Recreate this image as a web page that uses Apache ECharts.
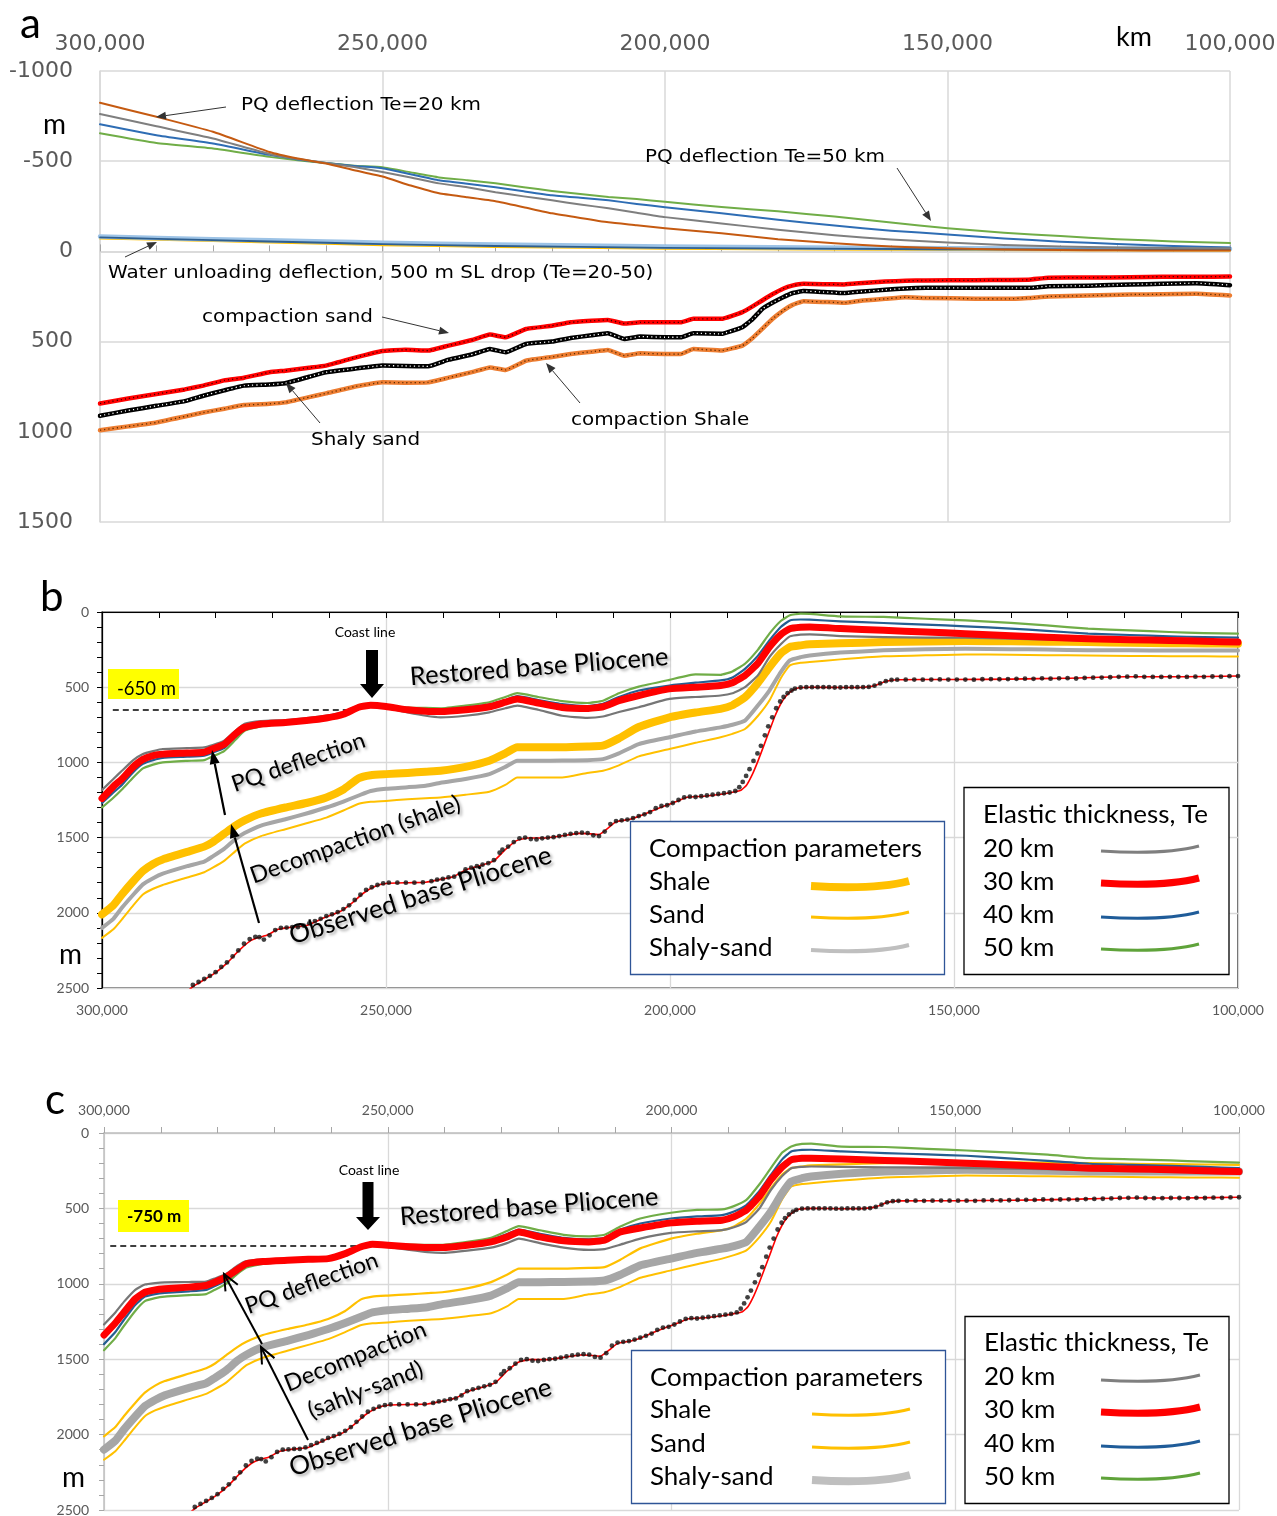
<!DOCTYPE html>
<html>
<head>
<meta charset="utf-8">
<script src="https://cdn.jsdelivr.net/npm/echarts@6/dist/echarts.min.js"></script>
<style>
  html, body { margin: 0; padding: 0; background: #fff; }
  #chart { width: 1277px; height: 1516px; }
</style>
</head>
<body>
<div id="chart"></div>
<script>
// Distances along the profile are stored in thousands (300 -> 300,000).

// ---------- Panel a: deflections and compaction corrections ----------
const aDist = [300,290,280,270,265,260,255,250,245,240,235,230,225,220,215,210,205,200,190,180,170,160,150,140,130,120,110,100];
const aPQ20 = [-824,-746,-663,-551,-515,-487,-450,-415,-365,-322,-300,-278,-245,-211,-185,-161,-145,-128,-100,-68,-45,-27,-17,-11,-8,-6,-5,-5];
const aPQ30 = [-762,-694,-626,-540,-512,-490,-468,-440,-410,-377,-355,-328,-305,-283,-260,-239,-214,-190,-155,-120,-90,-66,-50,-35,-27,-22,-19,-17];
const aPQ40 = [-705,-644,-598,-535,-510,-490,-474,-461,-428,-394,-375,-356,-333,-311,-297,-283,-263,-245,-211,-175,-143,-115,-94,-72,-54,-41,-30,-22];
const aPQ50 = [-655,-601,-570,-524,-505,-490,-475,-467,-438,-410,-395,-378,-356,-335,-318,-302,-290,-275,-246,-222,-193,-160,-128,-104,-85,-68,-55,-46];

const wDist   = [300,280,260,250,230,200,150,100];
const wLight  = [-82,-68,-55,-48,-38,-27,-18,-14];
const wDark   = [-78,-62,-48,-40,-30,-20,-12,-10];
const wYellow = [-72,-57,-42,-34,-25,-15,-8,-5];

const cDistA = [300,295,290,285,281.7,278,274.5,270,267.2,263, 260,255,250,246,241.9,238.3,234,231,228.2,224.6,
                220,216.7,213,210.1,207.2,204.4,200,197.2,195,190, 186.3,184.5,182.8,181,179.1,177.5,175.5,172,168.3,165,
                161,157.4,153.8,145,139.4,135.7,132.1,125,117.6,112, 106,100];
const aSand  = [843,815,791,765,744,715,700,670,661,645, 633,590,552,545,550,522,490,461,476,430,
                412,393,385,380,400,393,393,393,374,374, 337,305,272,238,207,190,180,182,183,175,
                167,163,161,160,158,157,146,145,143,140, 141,139];
const aShalySand = [911,882,856,830,800,770,744,738,731,695, 670,650,633,635,637,600,570,541,559,513,
                500,480,465,454,485,472,476,476,454,457, 420,375,319,285,254,232,220,225,231,222,
                213,205,202,202,202,202,193,190,183,180, 176,187];
const aShale = [991,970,948,915,893,872,852,845,837,808, 787,750,726,728,726,700,668,643,657,606,
                585,569,556,546,578,565,569,569,541,550, 522,480,430,375,328,298,276,280,285,272,
                263,254,258,262,263,258,250,245,239,238, 235,244];

// ---------- Panels b and c: restored base Pliocene ----------
const rDist = [300,298,296.5,294.5,292.8,291,289.3,285,282,280.5, 278.5,276.5,274.9,272,267.7,264,260.5,257.5,254.8,252.7,
               250,246.2,243,240.4,236,231.8,229,226.9,223.2,219, 214.6,211.8,209,205.5,200.1,195.5,191.1,189,186.8,184.5,
               182.5,180.5,178.9,177,175.4,170,162.4,155,148,140, 133.7,126.4,119,112.1,106,100];

// b: sea level at coast line -650 m
const bTe20 = [1184,1110,1056,985,944,925,911,905,900,885, 856,790,744,725,718,705,689,665,622,615,
               638,668,690,700,690,667,640,622,650,690, 704,695,665,633,578,565,555,540,500,420,
               300,215,162,150,149,160,167,170,171,178, 183,189,189,189,189,189];
const bTe30 = [1240,1160,1110,1030,980,955,945,938,932,910, 880,810,767,745,735,722,705,680,633,620,
               628,650,660,662,650,630,600,578,605,635, 642,630,590,555,511,500,489,470,422,340,
               233,150,111,102,100,110,122,133,144,158, 168,178,184,189,195,200];
const bTe40 = [1270,1200,1150,1065,1010,985,970,962,955,935, 905,830,780,755,740,725,708,680,633,620,
               625,640,648,650,635,615,585,560,585,612, 625,610,565,522,489,470,455,435,378,290,
               189,100,56,50,51,62,73,84,95,110, 125,144,153,162,167,171];
const bTe50 = [1300,1235,1180,1100,1040,1015,1000,990,985,960, 925,850,790,760,745,728,710,682,635,622,
               625,635,638,640,622,600,565,540,565,592, 605,590,540,496,451,415,418,395,344,250,
               144,60,22,11,12,29,33,45,56,72, 89,111,122,133,140,144];

// c: sea level at coast line -750 m
const cTe20 = [1270,1190,1120,1040,1005,995,990,988,985,965, 935,880,850,840,835,832,825,795,752,740,
               755,775,790,795,780,760,730,700,730,760, 775,770,740,700,662,652,644,625,589,500,
               378,285,233,224,222,225,227,230,233,237, 240,244,244,244,244,244];
const cTe30 = [1340,1260,1190,1100,1056,1040,1033,1022,1011,990, 956,905,867,852,844,838,833,800,756,738,
               744,755,760,760,745,722,690,656,689,715, 722,711,656,630,596,585,578,555,511,420,
               311,225,178,168,167,172,182,190,200,212, 222,233,238,244,250,256];
const cTe40 = [1400,1320,1240,1140,1085,1068,1060,1050,1040,1015, 978,920,880,860,850,842,836,800,756,740,
               742,748,752,752,735,710,670,640,668,695, 705,695,640,600,567,553,544,520,478,385,
               278,175,122,112,111,122,133,142,151,170, 185,204,211,218,225,233];
const cTe50 = [1440,1360,1280,1180,1115,1095,1085,1075,1068,1040, 1000,935,892,868,855,845,838,802,758,742,
               740,740,742,742,722,695,650,618,645,675, 685,675,620,567,529,510,507,485,444,340,
               233,130,89,72,71,90,93,105,116,130, 144,167,175,182,190,196];

// decompacted base Pliocene for the three lithologies
const decShale = [2011,1950,1878,1790,1722,1675,1645,1595,1560,1530, 1475,1420,1385,1340,1300,1270,1233,1180,1105,1085,
                  1078,1070,1062,1056,1030,989,940,900,900,900, 895,889,840,765,700,668,644,620,567,470,
                  367,275,233,222,215,208,200,196,193,195, 197,200,204,207,209,211];
const decShaly = [2100,2040,1967,1880,1811,1770,1740,1690,1660,1625, 1575,1510,1470,1420,1378,1340,1300,1260,1220,1190,
                  1175,1165,1155,1135,1110,1078,1030,989,989,988, 985,978,940,878,833,795,767,750,722,620,
                  522,400,322,300,289,270,255,248,244,247, 250,255,255,256,256,256];
const decSand  = [2167,2110,2044,1950,1878,1840,1815,1765,1730,1700, 1655,1590,1540,1490,1444,1405,1367,1320,1275,1262,
                  1256,1245,1238,1233,1215,1195,1150,1100,1100,1100, 1070,1056,1020,960,911,870,833,810,778,690,
                  589,440,355,338,333,315,295,288,282,285, 287,289,292,294,295,296];

// observed base Pliocene (depth picks)
const obsDist = [285.5,284,283,282,281,280,279,278,277,276, 275,274,273,272.3,271.5,270.5,269.5,268.5,267.5,266.5,
                 265.5,264.5,263.5,262.5,261.5,260.5,259.5,258.5,257.5,256.5, 255.5,254.5,253.5,252.5,251.5,250.5,249.5,248,246.5,245,
                 243.5,242,241,240,239,238,237,236,235,234, 233,232,231,230,229.5,228.5,227.5,226.5,225.5,224.5,
                 223.5,222.5,221.5,220.5,219.5,218.5,217.5,216.5,215.5,214.5, 213.5,212.5,211.5,210.5,209.5,208.5,207.5,206.5,205.5,204.5,
                 203.5,202.5,201.5,200.5,199.5,198.5,197.5,196.5,195.5,194.5, 193.5,192.5,191.5,190.5,189.5,188.5,187.8,187.2,186.6,186,
                 185.3,184.6,184,183.3,182.7,182,181.3,180.6,180,179.3, 178.6,178,177,176,175,174,173,172,171,170,
                 169,168,167,166,165,164,163,162,161,160, 158.5,157,155.5,154,152.5,151,149.5,148,146.5,145,
                 143.5,142,140.5,139,137.5,136,134.5,133,131.5,130, 128.5,127,125.5,124,122.5,121,119.5,118,116.5,115,
                 113.5,112,110.5,109,107.5,106,104.5,103,101.5,100];
const obsDepth = [2540,2480,2460,2440,2420,2395,2360,2330,2290,2250, 2205,2175,2160,2162,2178,2150,2115,2100,2098,2095,
                  2095,2085,2070,2055,2040,2022,2010,1995,1975,1950, 1915,1880,1848,1830,1815,1805,1800,1800,1800,1800,
                  1798,1790,1780,1775,1765,1760,1740,1712,1700,1690, 1680,1670,1650,1600,1580,1560,1530,1505,1500,1510,
                  1512,1505,1500,1497,1490,1482,1475,1470,1467,1470, 1485,1490,1460,1410,1390,1385,1380,1370,1357,1345,
                  1330,1305,1290,1285,1270,1250,1233,1228,1230,1225, 1220,1215,1210,1205,1200,1190,1165,1130,1090,1045,
                  990,940,890,820,760,700,640,595,565,540, 522,510,502,500,500,500,500,500,502,502,
                  500,500,500,500,498,490,475,460,452,450, 450,449,450,449,448,449,449,449,450,447,
                  446,447,446,444,443,444,441,443,441,440, 442,438,437,436,434,431,430,428,431,432,
                  432,431,431,432,430,431,429,430,427,426];
// smoothed trace through the picks
const fitDist  = [286,284,282,280,278,276,274,272.5,271,269, 267,264,261,258,256,254,252,250,246,243,
                  240,238,236,233,231,229,227,225,222,219, 216,214,212.5,211,209.5,207,205,203,201,199,
                  197,194,191,189,187.5,186.5,185.5,184.5,183.5,182.5, 181.5,180.5,179.5,178.5,177.5,175,170,166,164,162,
                  160,150,140,130,120,110,100];
const fitDepth = [2560,2490,2445,2398,2335,2255,2190,2165,2150,2110, 2098,2085,2035,1990,1935,1870,1825,1805,1800,1797,
                  1775,1758,1715,1682,1655,1580,1520,1503,1503,1488, 1472,1475,1480,1440,1395,1378,1352,1320,1290,1262,
                  1232,1225,1212,1198,1185,1150,1080,990,890,790, 690,610,555,522,505,500,502,500,490,460,
                  450,449,446,440,431,431,426];

// coast-line sea level
const seaLevelB = 650;
const seaLevelC = 750;

// ---------------------------------------------------------------------
const pts = (d, v) => d.map((x, i) => [x * 1000, v[i]]);
const commas = v => String(v).replace(/\B(?=(\d{3})+(?!\d))/g, ',');
const FA = '"DejaVu Sans", Verdana, sans-serif';
const FB = 'Lato, "Noto Sans", sans-serif';

function line(ax, d, v, color, width, z, extra) {
  return Object.assign({
    type: 'line', xAxisIndex: ax, yAxisIndex: ax, data: pts(d, v),
    showSymbol: false, symbol: 'none', smooth: 0.15, silent: true, animation: false, z: z,
    lineStyle: { color: color, width: width, cap: 'round', join: 'round' }
  }, extra || {});
}

const series = [];
// panel a
series.push(line(0, wDist, wYellow, '#ffc000', 2, 2));
series.push(line(0, wDist, wLight, '#9dc3e6', 4.5, 3));
series.push(line(0, wDist, wDark, '#2f5f8f', 1.8, 4));
series.push(line(0, aDist, aPQ50, '#70ad47', 2, 5));
series.push(line(0, aDist, aPQ40, '#2e6db4', 2, 5));
series.push(line(0, aDist, aPQ30, '#7f7f7f', 2, 5));
series.push(line(0, aDist, aPQ20, '#c55a11', 2, 5));
[[aShale, '#ed7d31', '#5a2a00'], [aShalySand, '#000000', '#ffffff'], [aSand, '#ff0000', '#400000']].forEach(function (c) {
  series.push(line(0, cDistA, c[0], c[1], 4.5, 6, { smooth: 0.1 }));
  series.push(line(0, cDistA, c[0], c[2], 1.3, 7, { smooth: 0.1, lineStyle: { color: c[2], width: 1.3, type: [1.2, 3] } }));
});

function restoredPanel(ax, te20, te30, te40, te50, shaleW, shalyW, sea, seaFrom, seaTo) {
  series.push(line(ax, rDist, decSand, '#ffc000', 2, 2));
  series.push(line(ax, rDist, decShaly, '#a6a6a6', shalyW, 3));
  series.push(line(ax, rDist, decShale, '#ffc000', shaleW, 4));
  series.push(line(ax, rDist, te20, '#767676', 2.2, 5));
  series.push(line(ax, rDist, te50, '#70ad47', 2.2, 5));
  series.push(line(ax, rDist, te40, '#255e91', 2.2, 5));
  series.push(line(ax, rDist, te30, '#ff0000', 7, 6));
  series.push(line(ax, fitDist, fitDepth, '#ff0000', 1.6, 7, {
    markLine: {
      silent: true, symbol: ['none', 'none'], label: { show: false }, animation: false,
      lineStyle: { color: '#000', width: 1.6, type: [6, 4] },
      data: [[{ coord: [seaFrom * 1000, sea] }, { coord: [seaTo * 1000, sea] }]]
    }
  }));
  series.push({
    type: 'scatter', xAxisIndex: ax, yAxisIndex: ax, data: pts(obsDist, obsDepth),
    symbol: 'circle', symbolSize: 4.8, itemStyle: { color: '#111' }, silent: true, animation: false, z: 8
  });
}
restoredPanel(1, bTe20, bTe30, bTe40, bTe50, 8, 4, seaLevelB, 298.1, 254.7);
restoredPanel(2, cTe20, cTe30, cTe40, cTe50, 2.2, 8, seaLevelC, 298.9, 254.8);

// ---------------------------------------------------------------------
// annotations
const G = [];
function text(x, y, str, size, o) {
  o = o || {};
  const s = {
    text: str,
    font: (o.weight || 'normal') + ' ' + size + 'px ' + (o.family || FB),
    fill: o.color || '#000',
    textAlign: o.align || 'left',
    textVerticalAlign: o.va || 'middle'
  };
  if (o.shadow) {
    s.textShadowColor = 'rgba(0,0,0,0.35)';
    s.textShadowBlur = 3;
    s.textShadowOffsetX = 2;
    s.textShadowOffsetY = 2;
  }
  G.push({ type: 'text', x: x, y: y, scaleX: o.sx || 1, rotation: (o.rot || 0) * Math.PI / 180, style: s, z: 100, silent: true });
}
function head(x1, y1, x2, y2, len, half) {
  const a = Math.atan2(y2 - y1, x2 - x1);
  const bx = x2 - len * Math.cos(a), by = y2 - len * Math.sin(a);
  const nx = -Math.sin(a) * half, ny = Math.cos(a) * half;
  return { tip: [x2, y2], l: [bx + nx, by + ny], r: [bx - nx, by - ny], base: [bx, by] };
}
function arrow(x1, y1, x2, y2, w, len, half, color) {
  color = color || '#000';
  const h = head(x1, y1, x2, y2, len, half);
  G.push({ type: 'line', shape: { x1: x1, y1: y1, x2: h.base[0], y2: h.base[1] }, style: { stroke: color, lineWidth: w }, z: 100, silent: true });
  G.push({ type: 'polygon', shape: { points: [h.tip, h.l, h.r] }, style: { fill: color }, z: 100, silent: true });
}
function openArrow(x1, y1, x2, y2, w, len, half) {
  const h = head(x1, y1, x2, y2, len, half);
  G.push({ type: 'line', shape: { x1: x1, y1: y1, x2: x2, y2: y2 }, style: { stroke: '#000', lineWidth: w }, z: 100, silent: true });
  G.push({ type: 'polyline', shape: { points: [h.l, h.tip, h.r] }, style: { stroke: '#000', lineWidth: w, fill: null }, z: 100, silent: true });
}
function rect(x, y, w, h, fill, stroke, lw) {
  G.push({ type: 'rect', shape: { x: x, y: y, width: w, height: h }, style: { fill: fill, stroke: stroke || null, lineWidth: lw || 0 }, z: 95, silent: true });
}
function swatch(x1, x2, y, color, w) {
  G.push({ type: 'bezierCurve', shape: { x1: x1, y1: y, cpx1: (x1 + x2) * 0.5 + 15, cpy1: y + 4, x2: x2, y2: y - 5 },
           style: { stroke: color, lineWidth: w, fill: null, lineCap: 'butt' }, z: 101, silent: true });
}
function coastArrow(cx, top, shaftBottom, tipY, shaftHalf, headHalf) {
  G.push({ type: 'polygon', shape: { points: [[cx - shaftHalf, top], [cx + shaftHalf, top], [cx + shaftHalf, shaftBottom],
          [cx + headHalf, shaftBottom], [cx, tipY], [cx - headHalf, shaftBottom], [cx - shaftHalf, shaftBottom]] },
          style: { fill: '#000' }, z: 100, silent: true });
}

const SA = { family: FA, sx: 1.14 };   // panel a notes
const SL = { sx: 1.06 };               // legend entries

// panel a
text(20, 24, 'a', 42);
text(43, 125, 'm', 28);
text(1116, 37, 'km', 27);
text(241, 105, 'PQ deflection Te=20 km', 17.5, SA);
arrow(226, 107, 156, 117, 1, 10, 4, '#333');
text(645, 157, 'PQ deflection Te=50 km', 17.5, SA);
arrow(897, 168, 931, 221, 1, 10, 4, '#333');
text(108, 273, 'Water unloading deflection, 500 m SL drop (Te=20-50)', 17.5, SA);
arrow(125, 257, 157, 242, 1, 10, 4, '#333');
text(202, 317, 'compaction sand', 17.5, SA);
arrow(382, 317, 449, 333, 1, 10, 4, '#333');
text(311, 440, 'Shaly sand', 17.5, SA);
arrow(320, 423, 286, 383, 1, 10, 4, '#333');
text(571, 420, 'compaction Shale', 17.5, SA);
arrow(580, 403, 546, 363, 1, 10, 4, '#333');

// panel b
text(40, 597, 'b', 42);
text(59, 955, 'm', 28);
rect(108, 669, 71, 30, '#ffff00');
text(117, 689, '-650 m', 18.5);
text(365, 632, 'Coast line', 14, { align: 'center' });
coastArrow(372, 650, 684, 698, 6, 12);
text(411, 690, 'Restored base Pliocene', 25.5, { rot: 4.5, va: 'bottom', shadow: true });
text(236, 796, 'PQ deflection', 23, { rot: 19, va: 'bottom', shadow: true });
arrow(225, 815, 212, 750, 2.2, 14, 5);
text(255, 888, 'Decompaction (shale)', 23.5, { rot: 19.5, va: 'bottom', shadow: true });
arrow(259, 923, 231, 824, 2.2, 14, 5);
text(294, 949, 'Observed base Pliocene', 26, { rot: 17.5, va: 'bottom', shadow: true });

rect(630.5, 821.5, 314, 153, '#fff', '#2f5597', 1.3);
text(649, 849, 'Compaction parameters', 24.5, SL);
text(649, 882, 'Shale', 24.5, SL);
text(649, 915, 'Sand', 24.5, SL);
text(649, 948, 'Shaly-sand', 24.5, SL);
swatch(811, 909, 886, '#ffc000', 8);
swatch(811, 909, 917, '#ffc000', 3);
swatch(811, 909, 950, '#bfbfbf', 4);
rect(964, 787.5, 265, 187, '#fff', '#000', 1.3);
text(983, 815, 'Elastic thickness, Te', 24.5, SL);
text(983, 849, '20 km', 24.5, SL);
text(983, 882, '30 km', 24.5, SL);
text(983, 915, '40 km', 24.5, SL);
text(983, 948, '50 km', 24.5, SL);
swatch(1101, 1199, 851, '#7f7f7f', 3.2);
swatch(1101, 1199, 883, '#ff0000', 7);
swatch(1101, 1199, 917, '#1f5c99', 3.2);
swatch(1101, 1199, 949, '#5fa33a', 3.2);

// panel c
text(45, 1100, 'c', 42);
text(62, 1478, 'm', 28);
rect(118, 1200, 71, 32, '#ffff00');
text(127, 1217, '-750 m', 17, { weight: 'bold' });
text(369, 1170, 'Coast line', 14, { align: 'center' });
coastArrow(368, 1182, 1217, 1230, 5.5, 12);
text(401, 1230, 'Restored base Pliocene', 25.5, { rot: 4.5, va: 'bottom', shadow: true });
text(250, 1318, 'PQ deflection', 23, { rot: 20, va: 'bottom', shadow: true });
openArrow(262, 1344, 224, 1274, 2, 16, 7);
text(290, 1396, 'Decompaction', 23.5, { rot: 22, va: 'bottom', shadow: true });
text(313, 1423, '(sahly-sand)', 23.5, { rot: 21, va: 'bottom', shadow: true });
openArrow(308, 1440, 261, 1347, 2, 16, 7);
text(294, 1481, 'Observed base Pliocene', 26, { rot: 17.5, va: 'bottom', shadow: true });

rect(631.5, 1350.5, 314, 153, '#fff', '#2f5597', 1.3);
text(650, 1378, 'Compaction parameters', 24.5, SL);
text(650, 1410, 'Shale', 24.5, SL);
text(650, 1444, 'Sand', 24.5, SL);
text(650, 1477, 'Shaly-sand', 24.5, SL);
swatch(812, 910, 1414, '#ffc000', 3);
swatch(812, 910, 1447, '#ffc000', 3);
swatch(812, 910, 1480, '#bfbfbf', 8);
rect(965, 1316.5, 264, 187, '#fff', '#000', 1.3);
text(984, 1343, 'Elastic thickness, Te', 24.5, SL);
text(984, 1377, '20 km', 24.5, SL);
text(984, 1410, '30 km', 24.5, SL);
text(984, 1444, '40 km', 24.5, SL);
text(984, 1477, '50 km', 24.5, SL);
swatch(1101, 1200, 1380, '#7f7f7f', 3.2);
swatch(1101, 1200, 1412, '#ff0000', 7);
swatch(1101, 1200, 1446, '#1f5c99', 3.2);
swatch(1101, 1200, 1478, '#5fa33a', 3.2);

// ---------------------------------------------------------------------
const grayAxis = '#d9d9d9';
const xBase = { type: 'value', inverse: true, min: 100000, max: 300000, interval: 50000 };

const option = {
  backgroundColor: '#fff',
  animation: false,
  grid: [
    { left: 100, top: 71, width: 1130, height: 451, outerBoundsMode: 'none', containLabel: false },
    { left: 102, top: 612, width: 1136, height: 376, show: true, borderColor: '#000', borderWidth: 1.2,
      backgroundColor: 'transparent', outerBoundsMode: 'none', containLabel: false },
    { left: 104, top: 1133, width: 1135, height: 377, outerBoundsMode: 'none', containLabel: false }
  ],
  xAxis: [
    Object.assign({}, xBase, {
      gridIndex: 0, position: 'top',
      axisLine: { show: true, lineStyle: { color: grayAxis, width: 1.5 } },
      axisTick: { show: true, length: 7, lineStyle: { color: '#a6a6a6' } },
      minorTick: { show: true, splitNumber: 5, length: 6, lineStyle: { color: '#a6a6a6' } },
      splitLine: { show: true, lineStyle: { color: grayAxis, width: 1.5 } },
      axisLabel: { color: '#595959', fontSize: 22, fontFamily: FA, margin: 16, formatter: commas, showMinLabel: true, showMaxLabel: true }
    }),
    Object.assign({}, xBase, {
      gridIndex: 1, position: 'bottom',
      axisLine: { show: true, lineStyle: { color: '#000', width: 1.2 } },
      axisTick: { show: true, length: 6, lineStyle: { color: '#000' } },
      minorTick: { show: true, splitNumber: 5, length: 6, lineStyle: { color: '#000' } },
      splitLine: { show: true, lineStyle: { color: grayAxis, width: 1.3 } },
      axisLabel: { color: '#595959', fontSize: 14, fontFamily: FB, margin: 15, formatter: commas, showMinLabel: true, showMaxLabel: true }
    }),
    Object.assign({}, xBase, {
      gridIndex: 2, position: 'top',
      axisLine: { show: true, lineStyle: { color: '#bfbfbf', width: 1.5 } },
      axisTick: { show: true, length: 6, lineStyle: { color: '#a6a6a6' } },
      minorTick: { show: true, splitNumber: 5, length: 6, lineStyle: { color: '#a6a6a6' } },
      splitLine: { show: true, lineStyle: { color: grayAxis, width: 1.3 } },
      axisLabel: { color: '#595959', fontSize: 14, fontFamily: FB, margin: 16, formatter: commas, showMinLabel: true, showMaxLabel: true }
    })
  ],
  yAxis: [
    {
      gridIndex: 0, type: 'value', inverse: true, min: -1000, max: 1500, interval: 500,
      axisLine: { show: true, lineStyle: { color: grayAxis, width: 1.5 } },
      axisTick: { show: false },
      splitLine: { show: true, lineStyle: { color: grayAxis, width: 1.5 } },
      axisLabel: { color: '#595959', fontSize: 22, fontFamily: FA, margin: 27, formatter: v => String(v) }
    },
    {
      gridIndex: 1, type: 'value', inverse: true, min: 0, max: 2500, interval: 500,
      axisLine: { show: true, lineStyle: { color: '#000', width: 1.2 } },
      axisTick: { show: true, length: 5, lineStyle: { color: '#000' } },
      minorTick: { show: true, splitNumber: 5, length: 5, lineStyle: { color: '#000' } },
      splitLine: { show: true, lineStyle: { color: grayAxis, width: 1.3 } },
      axisLabel: { color: '#595959', fontSize: 14, fontFamily: FB, margin: 13, formatter: v => String(v) }
    },
    {
      gridIndex: 2, type: 'value', inverse: true, min: 0, max: 2500, interval: 500,
      axisLine: { show: true, lineStyle: { color: '#bfbfbf', width: 1.5 } },
      axisTick: { show: true, length: 5, lineStyle: { color: '#a6a6a6' } },
      minorTick: { show: true, splitNumber: 5, length: 5, lineStyle: { color: '#a6a6a6' } },
      splitLine: { show: true, lineStyle: { color: grayAxis, width: 1.3 } },
      axisLabel: { color: '#595959', fontSize: 14, fontFamily: FB, margin: 15, formatter: v => String(v) }
    }
  ],
  series: series,
  graphic: G
};

const chart = echarts.init(document.getElementById('chart'), null, { renderer: 'canvas', width: 1277, height: 1516 });
chart.setOption(option);
</script>
</body>
</html>
